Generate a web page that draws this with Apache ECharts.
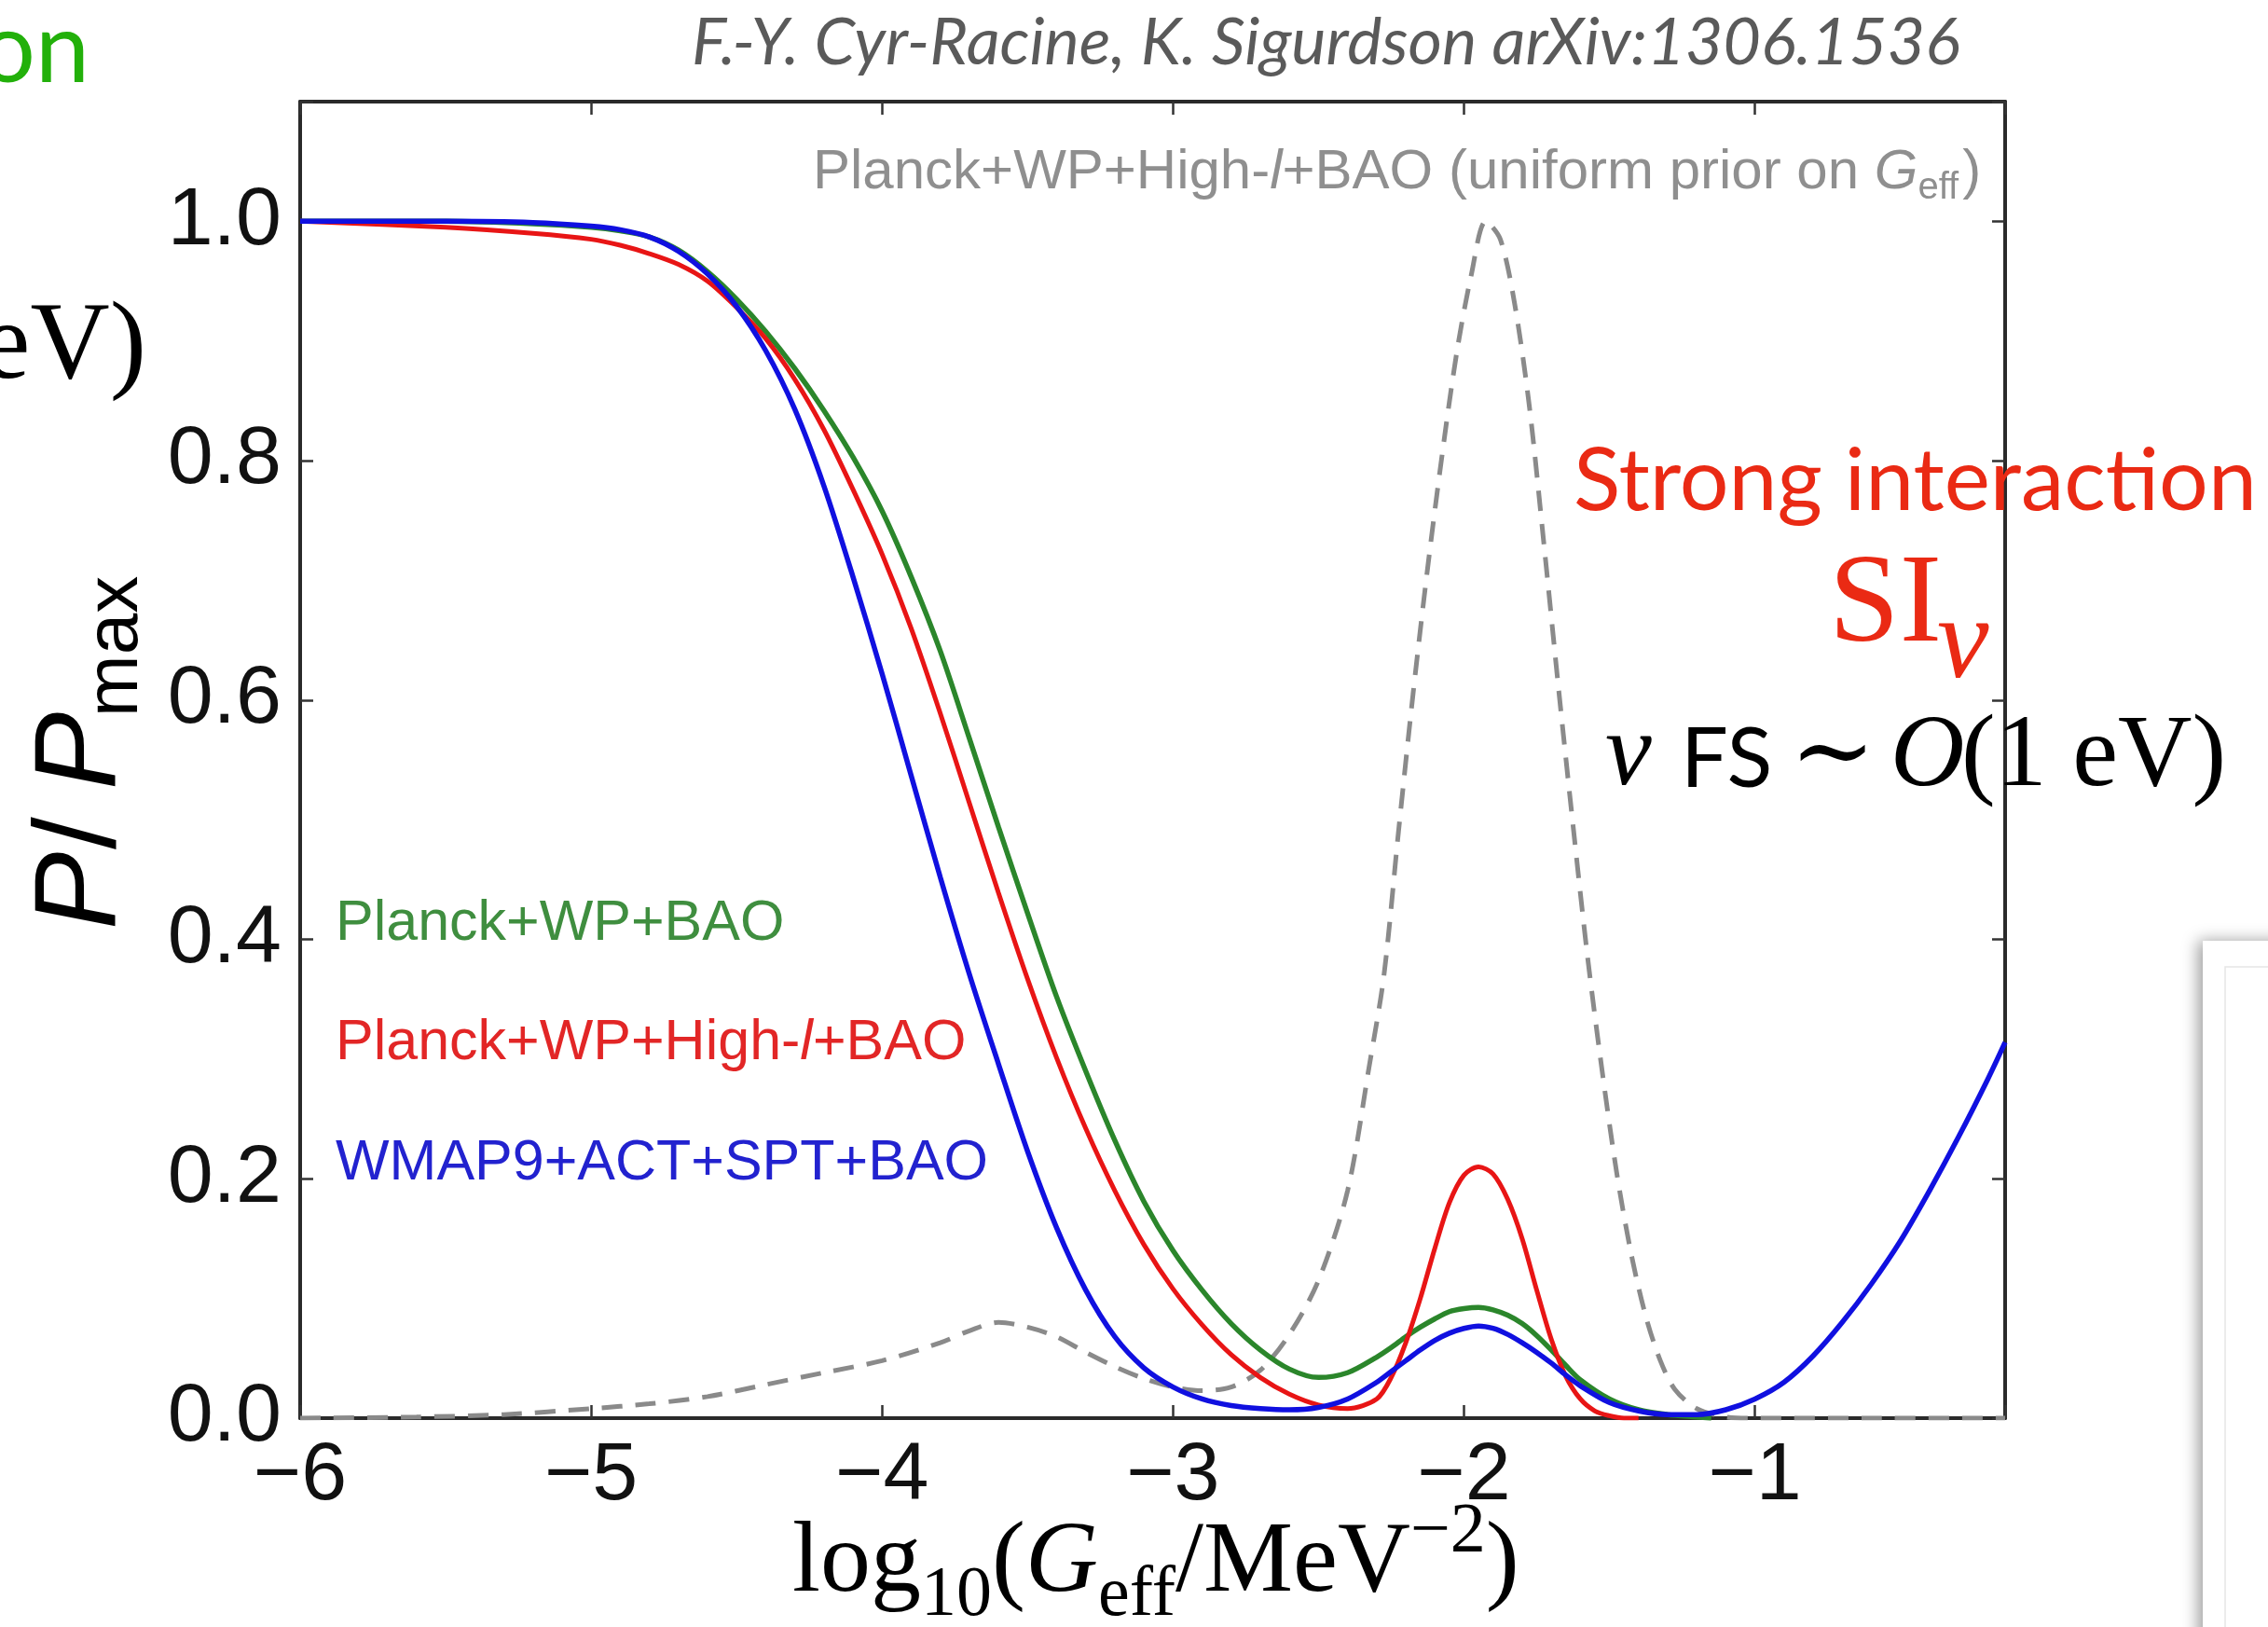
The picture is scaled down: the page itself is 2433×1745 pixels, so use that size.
<!DOCTYPE html>
<html>
<head>
<meta charset="utf-8">
<script src="https://cdn.jsdelivr.net/npm/echarts@6/dist/echarts.min.js"></script>
<style>
  html, body { margin: 0; padding: 0; background: #ffffff; }
  #chart { width: 2433px; height: 1745px; }
</style>
</head>
<body>
<div id="chart"></div>
<script>
// Posterior of log10(G_eff / MeV^-2), normalised to its maximum

// WMAP9+ACT+SPT+BAO
const blueX = [-6.0, -5.5, -5.2, -5.0, -4.9, -4.8, -4.7, -4.6, -4.5, -4.4, -4.3, -4.2, -4.1, -4.0, -3.9, -3.8, -3.7, -3.6, -3.5, -3.4, -3.3, -3.2, -3.1, -3.0, -2.9, -2.8, -2.7, -2.6, -2.5, -2.4, -2.3, -2.25, -2.2, -2.15, -2.1, -2.05, -2.0, -1.95, -1.9, -1.85, -1.8, -1.75, -1.7, -1.65, -1.6, -1.5, -1.4, -1.3, -1.2, -1.1, -1.0, -0.9, -0.8, -0.7, -0.6, -0.5, -0.4, -0.3, -0.2, -0.14];
const blueY = [1.0, 1.0, 0.999, 0.996, 0.993, 0.987, 0.975, 0.956, 0.929, 0.892, 0.843, 0.779, 0.703, 0.622, 0.537, 0.452, 0.371, 0.296, 0.223, 0.159, 0.107, 0.068, 0.042, 0.026, 0.016, 0.0105, 0.008, 0.007, 0.009, 0.016, 0.03, 0.039, 0.048, 0.057, 0.065, 0.071, 0.075, 0.077, 0.075, 0.07, 0.063, 0.055, 0.046, 0.036, 0.027, 0.013, 0.006, 0.003, 0.003, 0.007, 0.016, 0.03, 0.052, 0.08, 0.112, 0.148, 0.19, 0.235, 0.283, 0.314];

// Planck+WP+High-l+BAO
const redX = [-6.0, -5.5, -5.2, -5.0, -4.9, -4.8, -4.7, -4.6, -4.5, -4.4, -4.3, -4.2, -4.1, -4.0, -3.9, -3.8, -3.7, -3.6, -3.5, -3.4, -3.3, -3.2, -3.1, -3.0, -2.9, -2.8, -2.7, -2.6, -2.5, -2.4, -2.3, -2.25, -2.2, -2.15, -2.1, -2.05, -2.0, -1.95, -1.9, -1.85, -1.8, -1.75, -1.7, -1.65, -1.6, -1.55, -1.5, -1.45, -1.4];
const redY = [1.0, 0.995, 0.99, 0.985, 0.98, 0.973, 0.964, 0.95, 0.928, 0.902, 0.868, 0.826, 0.776, 0.722, 0.66, 0.589, 0.514, 0.439, 0.367, 0.301, 0.242, 0.19, 0.145, 0.108, 0.078, 0.053, 0.034, 0.02, 0.011, 0.008, 0.016, 0.034, 0.063, 0.1, 0.142, 0.18, 0.203, 0.21, 0.204, 0.183, 0.15, 0.107, 0.066, 0.035, 0.016, 0.006, 0.002, 0.0, 0.0];

// Planck+WP+BAO
const greenX = [-6.0, -5.5, -5.2, -5.0, -4.9, -4.8, -4.7, -4.6, -4.5, -4.4, -4.3, -4.2, -4.1, -4.0, -3.9, -3.8, -3.7, -3.6, -3.5, -3.4, -3.3, -3.2, -3.1, -3.0, -2.9, -2.8, -2.7, -2.6, -2.5, -2.4, -2.3, -2.25, -2.2, -2.15, -2.1, -2.05, -2.0, -1.95, -1.9, -1.85, -1.8, -1.75, -1.7, -1.65, -1.6, -1.5, -1.4, -1.3, -1.2, -1.15];
const greenY = [1.0, 1.0, 0.998, 0.995, 0.992, 0.987, 0.976, 0.958, 0.935, 0.908, 0.877, 0.842, 0.803, 0.758, 0.703, 0.641, 0.568, 0.494, 0.422, 0.352, 0.29, 0.232, 0.181, 0.14, 0.107, 0.079, 0.057, 0.041, 0.034, 0.038, 0.051, 0.059, 0.068, 0.076, 0.083, 0.089, 0.0915, 0.0925, 0.0905, 0.086, 0.079, 0.069, 0.057, 0.044, 0.032, 0.016, 0.007, 0.003, 0.001, 0.0];

// Planck+WP+High-l+BAO, uniform prior on G_eff
const grayX = [-6.0, -5.6, -5.3, -5.0, -4.8, -4.6, -4.4, -4.2, -4.0, -3.8, -3.7, -3.6, -3.5, -3.4, -3.3, -3.2, -3.1, -3.0, -2.9, -2.8, -2.7, -2.6, -2.5, -2.4, -2.325, -2.275, -2.225, -2.175, -2.125, -2.075, -2.025, -1.975, -1.925, -1.875, -1.825, -1.775, -1.725, -1.675, -1.625, -1.575, -1.525, -1.475, -1.425, -1.375, -1.325, -1.275, -1.2, -1.1, -1.0, -0.6, -0.14];
const grayY = [0.0, 0.001, 0.003, 0.008, 0.012, 0.018, 0.028, 0.038, 0.048, 0.063, 0.073, 0.08, 0.076, 0.068, 0.055, 0.043, 0.033, 0.026, 0.023, 0.026, 0.04, 0.07, 0.115, 0.19, 0.295, 0.37, 0.49, 0.605, 0.71, 0.805, 0.89, 0.955, 1.0, 0.985, 0.93, 0.845, 0.73, 0.61, 0.495, 0.385, 0.29, 0.205, 0.137, 0.085, 0.048, 0.024, 0.008, 0.001, 0.0, 0.0, 0.0];

// Axis ranges and tick steps
const xRange = [-6, -0.14];
const yRange = [0, 1.1];
const xStep = 1;
const yStep = 0.2;

// ---------- text helpers ----------
const measureCtx = document.createElement('canvas').getContext('2d');
function cssFont(s) {
  return (s.style || 'normal') + ' ' + (s.weight || 'normal') + ' ' + s.size + 'px ' + s.family;
}
function baselineShift(s) {
  measureCtx.font = cssFont(s);
  const m = measureCtx.measureText('Hg');
  if (m.fontBoundingBoxAscent !== undefined) {
    return (m.fontBoundingBoxAscent - m.fontBoundingBoxDescent) / 2;
  }
  return 0.35 * s.size;
}
function textWidth(t, s) {
  measureCtx.font = cssFont(s);
  return measureCtx.measureText(t).width;
}
function fitSize(t, s, w) {
  return s.size * w / textWidth(t, s);
}
// text placed by its alphabetic baseline
function label(t, x, baseline, s, align) {
  return {
    type: 'text', x: x, y: baseline - baselineShift(s), silent: true, z: 100,
    style: {
      text: t, fill: s.color, fontSize: s.size, fontFamily: s.family,
      fontStyle: s.style || 'normal', fontWeight: s.weight || 'normal',
      textAlign: align || 'left', textVerticalAlign: 'middle',
      align: align || 'left', verticalAlign: 'middle'
    }
  };
}
function row(parts, x, baseline) {
  const out = [];
  let cx = x;
  parts.forEach(function (p) {
    out.push(label(p.t, cx, baseline + (p.dy || 0), p.s));
    cx += textWidth(p.t, p.s) + (p.gap || 0);
  });
  return out;
}

// ---------- styles ----------
const SANS = 'Liberation Sans';
const SERIF = 'Liberation Serif';
const SLIDE = 'Lato';

const inPlot = { family: SANS, size: 61 };
function tinted(base, color, extra) { return Object.assign({}, base, { color: color }, extra || {}); }

const grayTxt = '#8f8f8f';
const greenTxt = '#3f8e3f';
const redTxt = '#e22626';
const blueTxt = '#2222cf';

const elements = [];

// panel at lower right
elements.push({
  type: 'rect', silent: true, z: 40,
  shape: { x: 2363, y: 1009, width: 140, height: 800 },
  style: { fill: '#ffffff', shadowBlur: 16, shadowColor: 'rgba(0,0,0,0.38)', shadowOffsetX: -5 }
});
elements.push({
  type: 'rect', silent: true, z: 41,
  shape: { x: 2387, y: 1037, width: 100, height: 800 },
  style: { fill: 'none', stroke: '#e6e6e6', lineWidth: 1.5 }
});

// header credit
const creditText = 'F.-Y. Cyr-Racine, K. Sigurdson arXiv:1306.1536';
const creditStyle = { family: SLIDE, style: 'italic', size: 60, color: '#5a5a5a' };
creditStyle.size = fitSize(creditText, creditStyle, 1361);
elements.push(label(creditText, 742, 73, creditStyle));

// fragments of neighbouring slide text
elements.push(label('on', 96, 95, { family: SLIDE, size: 104, color: '#22b00a' }, 'right'));
elements.push(label('eV)', 157, 414, { family: SERIF, size: 118, color: '#000000' }, 'right'));

// right-hand annotation
const siRed = '#ea2a14';
const strongText = 'Strong interaction';
const strongStyle = { family: SLIDE, size: 88, color: siRed };
strongStyle.size = fitSize(strongText, strongStyle, 733);
elements.push(label(strongText, 1688, 553, strongStyle));
elements.push(label('SI', 1962, 697, { family: SERIF, size: 136, color: siRed }));
elements.push(label('\u03bd', 2078, 735, { family: SERIF, style: 'italic', size: 125, color: siRed }));

const fsBase = 850;
elements.push(label('\u03bd', 1722, fsBase, { family: SERIF, style: 'italic', size: 112, color: '#000' }));
elements.push(label('FS', 1803, fsBase, { family: SLIDE, size: 90, color: '#000' }));
elements.push(label('\u223c', 1920, fsBase, { family: SERIF + ', DejaVu Serif', size: 110, color: '#000' }));
elements.push(label('O', 2028, fsBase, { family: SERIF, style: 'italic', size: 110, color: '#000' }));
elements.push(label('(1 eV)', 2104, fsBase, { family: SERIF, size: 110, color: '#000' }));

// caption inside the frame
const gIt = tinted(inPlot, grayTxt, { style: 'italic', size: 60 });
const gN = tinted(inPlot, grayTxt, { size: 60 });
row([
  { t: 'Planck+WP+High-', s: gN },
  { t: 'l', s: gIt },
  { t: '+BAO (uniform prior on ', s: gN },
  { t: 'G', s: gIt },
  { t: 'eff', s: tinted(inPlot, grayTxt, { size: 40 }), dy: 10, gap: 4 },
  { t: ')', s: gN }
], 872, 206).forEach(function (e) { elements.push(e); });

// series captions
row([{ t: 'Planck+WP+BAO', s: tinted(inPlot, greenTxt) }], 360, 1012).forEach(function (e) { elements.push(e); });
row([
  { t: 'Planck+WP+High-', s: tinted(inPlot, redTxt) },
  { t: 'l', s: tinted(inPlot, redTxt, { style: 'italic' }) },
  { t: '+BAO', s: tinted(inPlot, redTxt) }
], 360, 1140).forEach(function (e) { elements.push(e); });
row([{ t: 'WMAP9+ACT+SPT+BAO', s: tinted(inPlot, blueTxt) }], 360, 1269).forEach(function (e) { elements.push(e); });

// x-axis title: log10(G_eff / MeV^-2)
const xt = { family: SERIF, size: 108, color: '#000' };
const xtIt = Object.assign({}, xt, { style: 'italic' });
const xtSub = { family: SERIF, size: 76, color: '#000' };
row([
  { t: 'log', s: xt },
  { t: '10', s: xtSub, dy: 24 },
  { t: '(', s: xt },
  { t: 'G', s: xtIt },
  { t: 'eff', s: xtSub, dy: 24 },
  { t: '/', s: xt },
  { t: 'MeV', s: xt },
  { t: '\u22122', s: xtSub, dy: -44 },
  { t: ')', s: xt }
], 850, 1714).forEach(function (e) { elements.push(e); });

// y-axis title: P / P_max, reading upwards
const pStyle = { family: SANS, style: 'italic', size: 125, color: '#000' };
const slashStyle = { family: SANS, size: 125, color: '#000' };
const maxStyle = { family: SANS, size: 80, color: '#000' };
elements.push({
  type: 'group', x: 132, y: 997, rotation: Math.PI / 2, silent: true, z: 100,
  children: [
    label('P', 0, 0, pStyle),
    label('/', 86, 0, slashStyle),
    label('P', 150, 0, pStyle),
    label('max', 228, 20, maxStyle)
  ]
});

// ---------- chart ----------
function pairs(xs, ys) { return xs.map(function (x, i) { return [x, ys[i]]; }); }
function curve(name, xs, ys, color, width, type, z) {
  return {
    type: 'line', name: name, data: pairs(xs, ys),
    showSymbol: false, symbol: 'none', smooth: 0.3, silent: true, z: z,
    lineStyle: { color: color, width: width, type: type || 'solid' }
  };
}

const frame = { show: true, onZero: false, lineStyle: { color: '#2a2a2a', width: 4 } };
const ticks = { show: true, inside: true, length: 14, lineStyle: { color: '#333333', width: 2.5 } };
const tickFont = { fontSize: 88, fontFamily: SANS, color: '#111111' };

const option = {
  backgroundColor: '#ffffff',
  animation: false,
  graphic: { elements: elements },
  grid: { left: 322, right: 282, top: 109, bottom: 224, containLabel: false, outerBoundsMode: 'none' },
  xAxis: [
    {
      type: 'value', min: xRange[0], max: xRange[1], interval: xStep, position: 'bottom',
      axisLine: frame, axisTick: ticks, splitLine: { show: false },
      axisLabel: Object.assign({
        margin: 19,
        formatter: function (v) {
          if (Math.abs(v - Math.round(v)) > 1e-6) return '';
          return v < 0 ? '\u2212' + Math.abs(Math.round(v)) : String(Math.round(v));
        }
      }, tickFont)
    },
    {
      type: 'value', min: xRange[0], max: xRange[1], interval: xStep, position: 'top',
      axisLine: frame, axisTick: ticks, splitLine: { show: false }, axisLabel: { show: false }
    }
  ],
  yAxis: [
    {
      type: 'value', min: yRange[0], max: yRange[1], interval: yStep, position: 'left',
      axisLine: frame, axisTick: ticks, splitLine: { show: false },
      axisLabel: Object.assign({
        margin: 20,
        formatter: function (v) { return v > 1.05 ? '' : v.toFixed(1); }
      }, tickFont)
    },
    {
      type: 'value', min: yRange[0], max: yRange[1], interval: yStep, position: 'right',
      axisLine: frame, axisTick: ticks, splitLine: { show: false }, axisLabel: { show: false }
    }
  ],
  series: [
    curve('Planck+WP+High-l+BAO (uniform prior on G_eff)', grayX, grayY, '#8a8a8a', 5, [22, 14], 2),
    curve('Planck+WP+BAO', greenX, greenY, '#2b862b', 5.5, 'solid', 3),
    curve('Planck+WP+High-l+BAO', redX, redY, '#e81515', 5, 'solid', 4),
    curve('WMAP9+ACT+SPT+BAO', blueX, blueY, '#1010e0', 5.5, 'solid', 5)
  ]
};

const chart = echarts.init(document.getElementById('chart'), null, { renderer: 'canvas', width: 2433, height: 1745 });
chart.setOption(option);
</script>
</body>
</html>
